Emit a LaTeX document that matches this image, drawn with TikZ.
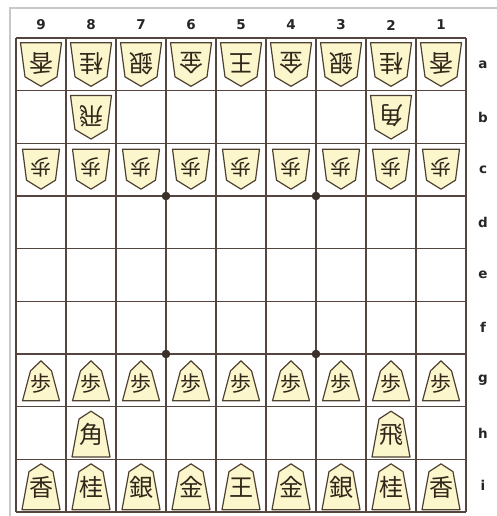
\documentclass[tikz,border=0pt]{standalone}
\usepackage{fontspec}
\newfontfamily\jp{Noto Sans CJK JP}
\newfontfamily\lab{DejaVu Sans}
\definecolor{pfill}{RGB}{251,246,204}
\definecolor{pline}{RGB}{78,64,48}
\definecolor{gridc}{RGB}{84,70,62}
\definecolor{kcol}{RGB}{50,38,26}
\definecolor{bord}{RGB}{200,200,200}
\tikzset{
  gridline/.style={draw=gridc,line width=1.3pt},
  frameline/.style={draw=bord,line width=1.2pt},
  piece/.style={fill=pfill,draw=pline,line width=1.2pt,line join=round},
  kanjibig/.style={inner sep=0pt,text=kcol,font=\jp\fontsize{24}{24}\selectfont},
  kanjipawn/.style={inner sep=0pt,text=kcol,font=\jp\fontsize{21}{21}\selectfont},
  labelc/.style={inner sep=0pt,text=black!85,font=\lab\bfseries\fontsize{13.5}{13.5}\selectfont},
}
\newcommand\gotebig[4]{%
  \begin{scope}[shift={(#2,#3)}]
    \draw[piece] (-20.5,-21.5) -- (20.5,-21.5) -- (16,12.5) -- (0,22) -- (-16,12.5) -- cycle;
  \end{scope}
  \node[kanjibig,rotate=180] (#1) at (#2,#3-1) {#4};}
\newcommand\gotepawn[4]{%
  \begin{scope}[shift={(#2,#3)}]
    \draw[piece] (-18.5,-20.5) -- (18.5,-20.5) -- (14.5,10.5) -- (0,19.5) -- (-14.5,10.5) -- cycle;
  \end{scope}
  \node[kanjipawn,rotate=180] (#1) at (#2,#3-2.5) {#4};}
\newcommand\sentebig[4]{%
  \begin{scope}[shift={(#2,#3)}]
    \draw[piece] (0,-21.8) -- (12,-14) -- (19,24) -- (-19,24) -- (-12,-14) -- cycle;
  \end{scope}
  \node[kanjibig] (#1) at (#2,#3+1.5) {#4};}
\newcommand\sentepawn[4]{%
  \begin{scope}[shift={(#2,#3)}]
    \draw[piece] (0,-19.5) -- (10.5,-9.5) -- (18.5,20.5) -- (-18.5,20.5) -- (-10.5,-9.5) -- cycle;
  \end{scope}
  \node[kanjipawn] (#1) at (#2,#3+3) {#4};}
\begin{document}
\begin{tikzpicture}[x=1pt,y=-1pt]
\useasboundingbox (0,0) rectangle (497,516);
\fill[white] (0,0) rectangle (497,516);
\draw[frameline] (10,516) -- (10,8) -- (497,8);
% grid
\foreach \i in {0,...,9} \draw[gridline] (16+50*\i,38) -- (16+50*\i,512);
\foreach \j in {0,...,9} \draw[gridline] (16,38+52.667*\j) -- (466,38+52.667*\j);
% star points
\foreach \px/\py in {166/196,316/196,166/354,316/354}
  \fill[gridc!70!black] (\px,\py) circle[radius=4.3pt];
% column labels
\foreach \c in {0,...,8} {
  \pgfmathtruncatemacro\num{9-\c}
  \node[labelc] (col\c) at (41+50*\c,25) {\num};
}
% row labels
\foreach \r/\l in {0/a,1/b,2/c,3/d,4/e,5/f,6/g,7/h,8/i}
  \node[labelc] (row\l) at (483,64.33+52.667*\r) {\l};
% gote pieces
\foreach \c/\k in {0/香,1/桂,2/銀,3/金,4/王,5/金,6/銀,7/桂,8/香}
  \gotebig{ga\c}{41+50*\c}{64.33}{\k};
\gotebig{gb1}{91}{117}{飛}
\gotebig{gb7}{391}{117}{角}
\foreach \c in {0,...,8}
  \gotepawn{gc\c}{41+50*\c}{169.67}{歩};
% sente pieces
\foreach \c in {0,...,8}
  \sentepawn{sg\c}{41+50*\c}{380.33}{歩};
\sentebig{sh1}{91}{433}{角}
\sentebig{sh7}{391}{433}{飛}
\foreach \c/\k in {0/香,1/桂,2/銀,3/金,4/王,5/金,6/銀,7/桂,8/香}
  \sentebig{si\c}{41+50*\c}{485.67}{\k};
\end{tikzpicture}
\end{document}
